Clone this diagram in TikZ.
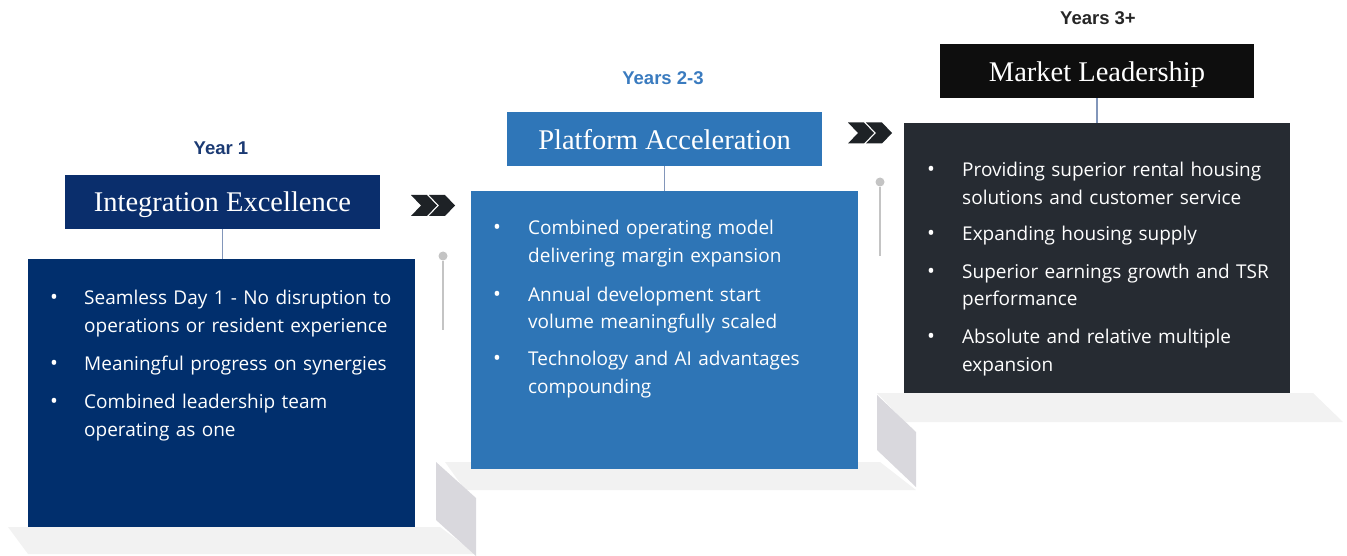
\documentclass[tikz,border=0pt]{standalone}
\usepackage{fontspec}
\setmainfont{Open Sans}
\newfontfamily\titlefont{Liberation Serif}
\newfontfamily\labelfont{Liberation Sans}

\definecolor{navy}{HTML}{012F6D}
\definecolor{navytitle}{HTML}{0A2E6C}
\definecolor{midblue}{HTML}{2E75B6}
\definecolor{midtitle}{HTML}{2F76B8}
\definecolor{slate}{HTML}{262B32}
\definecolor{blackbox}{HTML}{0E0E0E}
\definecolor{floorgrey}{HTML}{F2F2F2}
\definecolor{risergrey}{HTML}{D9D8DD}
\definecolor{pingrey}{HTML}{C4C4C4}
\definecolor{chevcol}{HTML}{1E2226}
\definecolor{linkcol}{HTML}{8296BA}
\definecolor{yearnavy}{HTML}{1B3A73}
\definecolor{yearblue}{HTML}{3A7BBF}
\definecolor{yeardark}{HTML}{262626}

\tikzset{
  bodybox/.style={rectangle, inner sep=0pt, outer sep=0pt, anchor=north west,
    minimum width=387pt},
  titlebox/.style={rectangle, inner sep=0pt, outer sep=0pt, text=white,
    minimum width=315pt, minimum height=54pt, text height=19.5pt, text depth=0pt,
    font=\titlefont\fontsize{28.5}{30}\selectfont},
  yearlabel/.style={inner sep=0pt, font=\labelfont\bfseries\fontsize{18.5}{20}\selectfont},
  bullettext/.style={inner sep=0pt, anchor=base west, text=white, align=left,
    text width=380pt, font=\fontsize{19}{28}\selectfont},
  bulletdot/.style={inner sep=0pt, anchor=base, text=white,
    font=\fontsize{21}{28}\selectfont},
  link/.style={draw=linkcol, line width=1.6pt},
  pinhead/.style={circle, fill=pingrey, inner sep=0pt, minimum size=9pt},
  pinline/.style={draw=pingrey, line width=2.4pt},
  dblchev/.pic={
    \fill[chevcol] (0,0) -- (16,0) -- (26,10.5) -- (16,21) -- (0,21) -- (10,10.5) -- cycle;
    \fill[chevcol] (18,0) -- (34,0) -- (44,10.5) -- (34,21) -- (18,21) -- (28,10.5) -- cycle;
  }
}

\begin{document}
\begin{tikzpicture}[x=1pt,y=-1pt]
\useasboundingbox (0,0) rectangle (1347,556);

% floors of the three steps
\fill[floorgrey] (8,527) -- (440,527) -- (476,554) -- (28,554) -- cycle;
\fill[floorgrey] (445,462) -- (880,462) -- (916,490) -- (465,490) -- cycle;
\fill[floorgrey] (877,393) -- (1313,393) -- (1343,422) -- (905,422) -- cycle;
% risers
\fill[risergrey] (436,462) -- (476,498) -- (476,556) -- (436,520) -- cycle;
\fill[risergrey] (877,395) -- (916,432) -- (916,487) -- (877,450) -- cycle;

% pins
\node[pinhead] (pin1) at (443,256) {};
\coordinate (pin1end) at (443,330);
\draw[pinline] (pin1) -- (pin1end);
\node[pinhead] (pin2) at (880,182) {};
\coordinate (pin2end) at (880,256);
\draw[pinline] (pin2) -- (pin2end);

% chevrons between the stages
\pic at (411,195) {dblchev};
\pic at (848,122.5) {dblchev};

% ---------- Stage 1 ----------
\node[yearlabel, text=yearnavy] (year1) at (221,148) {Year 1};
\node[bodybox, fill=navy, minimum height=268pt] (body1) at (28,259) {};
\node[titlebox, fill=navytitle] (title1) at (222.5,202) {Integration Excellence};
\draw[link] (title1.south) -- (title1.south |- body1.north);

\node[bulletdot] (d1a) at (54,305) {•};
\node[bullettext] (t1a) at (84,305) {Seamless Day 1 - No disruption to\\operations or resident experience};
\node[bulletdot] (d1b) at (54,370) {•};
\node[bullettext] (t1b) at (84,370) {Meaningful progress on synergies};
\node[bulletdot] (d1c) at (54,408) {•};
\node[bullettext] (t1c) at (84,408) {Combined leadership team\\operating as one};

% ---------- Stage 2 ----------
\node[yearlabel, text=yearblue] (year2) at (663,78) {Years 2-3};
\node[bodybox, fill=midblue, minimum height=278pt] (body2) at (471,191) {};
\node[titlebox, fill=midtitle] (title2) at (664.5,139.5) {Platform Acceleration};
\draw[link] (title2.south) -- (title2.south |- body2.north);

\node[bulletdot] (d2a) at (497,235) {•};
\node[bullettext] (t2a) at (528,235) {Combined operating model\\delivering margin expansion};
\node[bulletdot] (d2b) at (497,301) {•};
\node[bullettext] (t2b) at (528,301) {Annual development start\\volume meaningfully scaled};
\node[bulletdot] (d2c) at (497,365) {•};
\node[bullettext] (t2c) at (528,365) {Technology and AI advantages\\compounding};

% ---------- Stage 3 ----------
\node[yearlabel, text=yeardark] (year3) at (1098,18) {Years 3+};
\node[bodybox, fill=slate, minimum width=386pt, minimum height=270pt] (body3) at (904,123) {};
\node[titlebox, fill=blackbox, minimum width=314pt] (title3) at (1097,71.5) {Market Leadership};
\draw[link] (title3.south) -- (title3.south |- body3.north);

\node[bulletdot] (d3a) at (931,177) {•};
\node[bullettext] (t3a) at (962,177) {Providing superior rental housing\\solutions and customer service};
\node[bulletdot] (d3b) at (931,241) {•};
\node[bullettext] (t3b) at (962,241) {Expanding housing supply};
\node[bulletdot] (d3c) at (931,278) {•};
\node[bullettext] (t3c) at (962,278) {Superior earnings growth and TSR\\performance};
\node[bulletdot] (d3d) at (931,343) {•};
\node[bullettext] (t3d) at (962,343) {Absolute and relative multiple\\expansion};
\end{tikzpicture}
\end{document}
